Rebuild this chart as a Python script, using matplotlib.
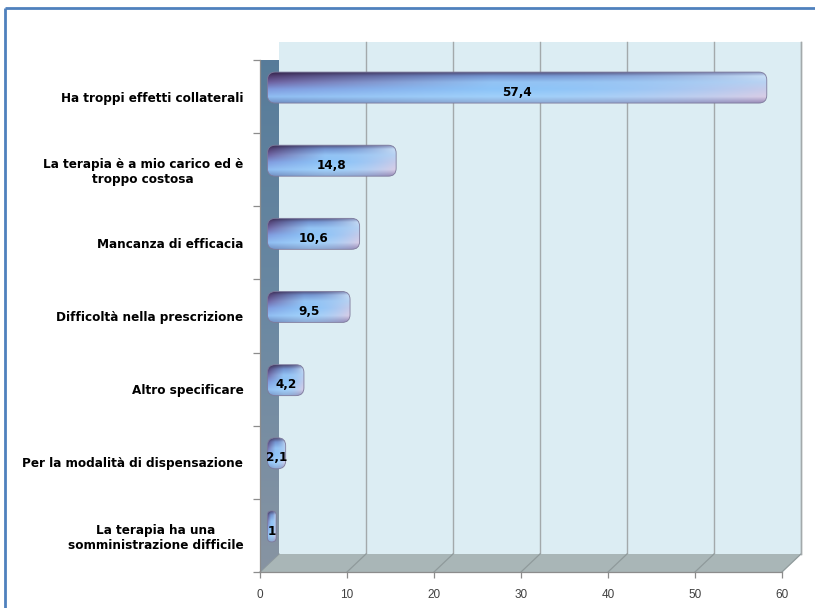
import numpy as np
import matplotlib
matplotlib.use("Agg")
import matplotlib.pyplot as plt
from matplotlib import font_manager as fm
from matplotlib.patches import Polygon, FancyBboxPatch
from matplotlib.lines import Line2D
from matplotlib.colors import to_rgb

# ---- data ----
categories = [
    "Ha troppi effetti collaterali",
    "La terapia è a mio carico ed è\ntroppo costosa",
    "Mancanza di efficacia",
    "Difficoltà nella prescrizione",
    "Altro specificare",
    "Per la modalità di dispensazione",
    "La terapia ha una\nsomministrazione difficile",
]
values = [57.4, 14.8, 10.6, 9.5, 4.2, 2.1, 1.0]
x_ticks = [0, 10, 20, 30, 40, 50, 60]


def narrow_bold_font():
    """Return a FontProperties for a condensed bold face if one is installed."""
    for f in fm.fontManager.ttflist:
        name = f.name.lower()
        fname = f.fname.lower()
        bold = (f.weight in ("bold", 700) or "bold" in fname)
        narrow = ("narrow" in name or "condensed" in name or "narrow" in fname
                  or "condensed" in fname or str(f.stretch) == "condensed")
        if bold and narrow and "oblique" not in fname and "italic" not in fname:
            return fm.FontProperties(fname=f.fname), True
    return fm.FontProperties(family=["Liberation Sans", "DejaVu Sans"], weight="bold"), False


label_fp, is_narrow = narrow_bold_font()
CAT_SIZE = 9.6 if is_narrow else 9
VAL_SIZE = 9.6 if is_narrow else 9
TICK_FONT = ["Liberation Sans", "DejaVu Sans"]

W, H, DPI = 815, 608, 100
fig = plt.figure(figsize=(W / DPI, H / DPI), dpi=DPI)
fig.patch.set_facecolor("white")

# front plane of the 3-D box, in figure pixels
fx0, fx1, fy0, fy1 = 260, 782, 36, 548
ax = fig.add_axes([fx0 / W, fy0 / H, (fx1 - fx0) / W, (fy1 - fy0) / H])
ax.patch.set_visible(False)

n = len(categories)
XMAX = 60
ylo, yhi = -0.5, n - 0.5
px_x = (fx1 - fx0) / XMAX
px_y = (fy1 - fy0) / n
DX = 19 / px_x          # depth offset, data units
DY = 18 / px_y


def vgrad_image(colors, n_rows=64):
    cols = np.array([to_rgb(c) for c in colors])
    pos = np.linspace(0, 1, len(cols))
    t = np.linspace(0, 1, n_rows)
    return np.stack([np.interp(t, pos, cols[:, k]) for k in range(3)], axis=-1)[:, None, :]


# back wall
wall = Polygon([(DX, ylo - DY), (XMAX + DX, ylo - DY), (XMAX + DX, yhi - DY), (DX, yhi - DY)],
               closed=True, facecolor="#dcedf3", edgecolor="none", zorder=1, clip_on=False)
ax.add_patch(wall)

# grid lines on the wall
for v in x_ticks[1:]:
    ax.add_line(Line2D([v + DX, v + DX], [ylo - DY, yhi - DY], color="#a3a9ab", lw=1.0,
                       zorder=2, clip_on=False))

# floor
floor = Polygon([(0, yhi), (XMAX, yhi), (XMAX + DX, yhi - DY), (DX, yhi - DY)],
                closed=True, facecolor="#a9b6b7", edgecolor="none", zorder=3, clip_on=False)
ax.add_patch(floor)
for v in x_ticks:
    ax.add_line(Line2D([v, v + DX], [yhi, yhi - DY], color="#8f9a9b", lw=0.9,
                       zorder=3.5, clip_on=False))
ax.add_line(Line2D([XMAX + DX, XMAX + DX], [ylo - DY, yhi - DY], color="#a3a9ab", lw=1.0,
                   zorder=3.5, clip_on=False))

# side wall with vertical gradient
side = Polygon([(0, ylo), (DX, ylo - DY), (DX, yhi - DY), (0, yhi)],
               closed=True, facecolor="none", edgecolor="none", zorder=4, clip_on=False)
ax.add_patch(side)
side_img = ax.imshow(vgrad_image(["#567b99", "#6a88a2", "#8794a2"]),
                     extent=(0, DX, yhi, ylo - DY), aspect="auto", zorder=4,
                     interpolation="bilinear")
side_img.set_clip_path(side)

# bar colouring: vertical profiles at the left, middle and right of each bar
prof_pos = [0, 0.12, 0.32, 0.55, 0.8, 1.0]
prof_left = ["#33234a", "#4f3a6c", "#6d5f9e", "#7f98dc", "#8fbdf2", "#6f8fc4"]
prof_mid = ["#52527e", "#7394d0", "#93c3f4", "#8cc4f8", "#a0d0fa", "#8eacd6"]
prof_right = ["#8c98c4", "#c8def6", "#b8d2f2", "#c6cbea", "#d8cde6", "#9c8cb8"]


def bar_image(nx=200, ny=48):
    ty = np.linspace(0, 1, ny)

    def prof(cols):
        c = np.array([to_rgb(x) for x in cols])
        return np.stack([np.interp(ty, prof_pos, c[:, k]) for k in range(3)], axis=-1)

    L, M, R = prof(prof_left), prof(prof_mid), prof(prof_right)
    tx = np.linspace(0, 1, nx)
    img = np.empty((ny, nx, 3))
    for j, t in enumerate(tx):
        if t < 0.45:
            a = (t / 0.45) ** 0.8
            img[:, j] = L * (1 - a) + M * a
        else:
            a = ((t - 0.45) / 0.55) ** 2.0
            img[:, j] = M * (1 - a) + R * a
    return img


BAR_H = 31 / px_y
SHIFT_X = 0.85
SHIFT_Y = 9 / px_y
RADIUS_PX = 8
gimg = bar_image()
for i, v in enumerate(values):
    x0 = SHIFT_X
    w = v
    y0 = i - SHIFT_Y - BAR_H / 2
    r = min(RADIUS_PX / px_x, w / 2 * 0.95)
    patch = FancyBboxPatch((x0, y0), w, BAR_H,
                           boxstyle=f"round,pad=0,rounding_size={r}",
                           mutation_aspect=(RADIUS_PX / px_y) / (RADIUS_PX / px_x),
                           facecolor="none", edgecolor="#7d7a9c", lw=0.6,
                           zorder=6, clip_on=False)
    ax.add_patch(patch)
    im = ax.imshow(gimg, extent=(x0, x0 + w, y0 + BAR_H, y0), aspect="auto",
                   zorder=5, interpolation="bilinear")
    im.set_clip_path(patch)
    lbl = f"{v:g}".replace(".", ",")
    ax.text(x0 + w / 2, i - 0.06, lbl, ha="center", va="center",
            fontproperties=label_fp, fontsize=VAL_SIZE, fontweight="bold",
            color="black", zorder=7, clip_on=False)

# axes, ticks and labels
ax.set_xlim(0, XMAX)
ax.set_ylim(yhi, ylo)
for s in ("top", "right"):
    ax.spines[s].set_visible(False)
for s in ("left", "bottom"):
    ax.spines[s].set_color("#8c8c8c")
    ax.spines[s].set_linewidth(0.9)
    ax.spines[s].set_zorder(8)

ax.set_yticks(range(n))
ax.set_yticklabels(categories)
ax.set_yticks(np.arange(n + 1) - 0.5, minor=True)
ax.tick_params(axis="y", which="major", length=0, pad=12)
ax.tick_params(axis="y", which="minor", length=5, color="#8c8c8c", width=0.9)
for t in ax.get_yticklabels():
    t.set_fontproperties(label_fp)
    t.set_fontweight("bold")
    t.set_fontsize(CAT_SIZE)
    t.set_multialignment("center")

ax.set_xticks(x_ticks)
ax.set_xticklabels([str(v) for v in x_ticks])
ax.tick_params(axis="x", length=4, color="#8c8c8c", width=0.9, pad=8,
               labelsize=8.5, labelcolor="#404040")
for t in ax.get_xticklabels():
    t.set_fontfamily(TICK_FONT)

# outer frame of the chart area
frame_kw = dict(color="#4f81bd", lw=2.0, transform=None, solid_capstyle="butt")
fig.add_artist(Line2D([5, W], [H - 8, H - 8], **frame_kw))
fig.add_artist(Line2D([5, 5], [0, H - 8], **frame_kw))

fig.savefig("out.png", dpi=DPI, facecolor="white")
